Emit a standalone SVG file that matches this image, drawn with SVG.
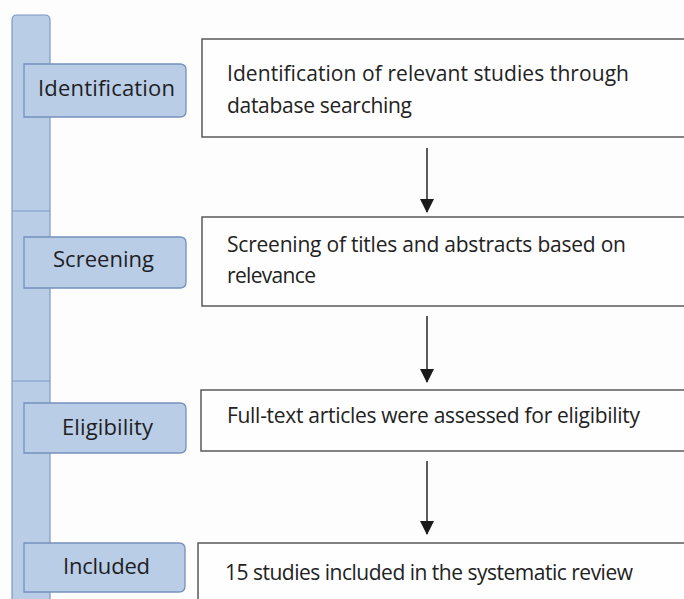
<svg xmlns="http://www.w3.org/2000/svg" width="684" height="599" viewBox="0 0 684 599">
<defs>
<style>
.bar{fill:#b9cde6;stroke:#7d98c4;stroke-width:1.2}
.tab{fill:#b9cde6;stroke:#7590bd;stroke-width:1.3}
.tabt{font-family:"Open Sans","Liberation Sans",sans-serif;font-size:22px;fill:#1e1e24}
.box{fill:#fefefe;stroke:#5a5a5a;stroke-width:1.5}
.bt{font-family:"Open Sans","Liberation Sans",sans-serif;font-size:21px;fill:#222}
.conn{stroke:#333;stroke-width:1.6;fill:none}
</style>
<marker id="ah" markerWidth="14" markerHeight="14" refX="13" refY="7" orient="auto" markerUnits="userSpaceOnUse" viewBox="0 0 14 14">
<path d="M0,0 L14,7 L0,14 Z" fill="#1a1a1a"/>
</marker>
</defs>
<rect width="684" height="599" fill="#fdfdfd"/>
<g id="sidebar">
<path class="bar" d="M12,599 V20 Q12,15 17,15 H45 Q50,15 50,20 V599"/>
<line x1="12" y1="211" x2="50" y2="211" stroke="#7d98c4" stroke-width="1.2"/>
<line x1="12" y1="381" x2="50" y2="381" stroke="#7d98c4" stroke-width="1.2"/>
</g>
<g id="tab-identification">
<path class="tab" d="M24,64 H180 Q186,64 186,70 V111 Q186,117 180,117 H24 Z"/>
<text class="tabt" x="38" y="96" textLength="137" lengthAdjust="spacing">Identification</text>
</g>
<g id="tab-screening">
<path class="tab" d="M24,237 H180 Q186,237 186,243 V282 Q186,288 180,288 H24 Z"/>
<text class="tabt" x="53" y="267" textLength="101" lengthAdjust="spacing">Screening</text>
</g>
<g id="tab-eligibility">
<path class="tab" d="M24,403 H180 Q186,403 186,409 V447 Q186,453 180,453 H24 Z"/>
<text class="tabt" x="62" y="435" textLength="91" lengthAdjust="spacing">Eligibility</text>
</g>
<g id="tab-included">
<path class="tab" d="M24,543 H179 Q185,543 185,549 V586 Q185,592 179,592 H24 Z"/>
<text class="tabt" x="63" y="574" textLength="87" lengthAdjust="spacing">Included</text>
</g>
<g id="box-identification">
<rect class="box" x="202" y="39" width="490" height="98"/>
<text class="bt" x="227" y="81" textLength="402" lengthAdjust="spacing">Identification of relevant studies through</text>
<text class="bt" x="227" y="113" textLength="185" lengthAdjust="spacing">database searching</text>
</g>
<g id="box-screening">
<rect class="box" x="202" y="217" width="490" height="89"/>
<text class="bt" x="227" y="252" textLength="399" lengthAdjust="spacing">Screening of titles and abstracts based on</text>
<text class="bt" x="227" y="283" textLength="89" lengthAdjust="spacing">relevance</text>
</g>
<g id="box-eligibility">
<rect class="box" x="201" y="390" width="490" height="61"/>
<text class="bt" x="227" y="423" textLength="413" lengthAdjust="spacing">Full-text articles were assessed for eligibility</text>
</g>
<g id="box-included">
<rect class="box" x="198" y="543" width="495" height="70"/>
<text class="bt" x="225" y="580" textLength="408" lengthAdjust="spacing">15 studies included in the systematic review</text>
</g>
<g id="connectors">
<line class="conn" x1="427" y1="148" x2="427" y2="212" marker-end="url(#ah)"/>
<line class="conn" x1="427" y1="316" x2="427" y2="382" marker-end="url(#ah)"/>
<line class="conn" x1="427" y1="461" x2="427" y2="534" marker-end="url(#ah)"/>
</g>
</svg>
